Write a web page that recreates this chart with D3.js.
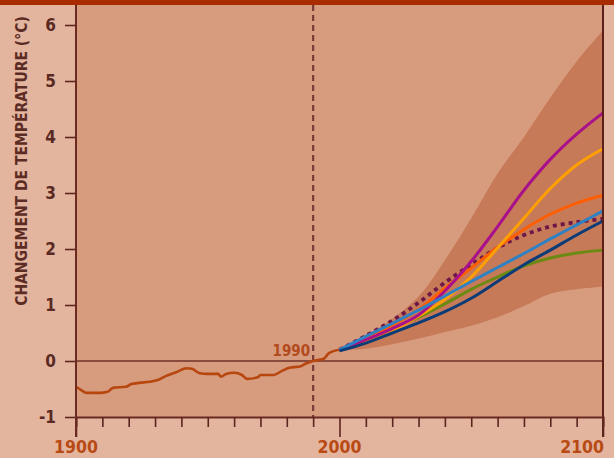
<!DOCTYPE html>
<html>
<head>
<meta charset="utf-8">
<script src="https://cdn.jsdelivr.net/npm/d3@7"></script>
<style>
  body { margin: 0; background: #e3b49e; }
  svg { display: block; }
  text { font-family: "DejaVu Sans Condensed", "DejaVu Sans", sans-serif; }
</style>
</head>
<body>
<script>
// observed record 1900-2000
var histYears = [1900, 1902, 1904, 1909, 1912, 1914, 1919, 1921, 1924, 1928, 1931, 1934, 1938, 1942, 1944,
	1947, 1950, 1954, 1955, 1957, 1960, 1963, 1965, 1969, 1970, 1975, 1978, 1981, 1985, 1987, 1990,
	1994, 1996, 2000];
var histTemp = [-0.46, -0.52, -0.57, -0.57, -0.55, -0.48, -0.46, -0.41, -0.39, -0.37, -0.34, -0.27, -0.2, -0.13, -0.14,
	-0.22, -0.23, -0.23, -0.28, -0.23, -0.21, -0.25, -0.32, -0.29, -0.25, -0.25, -0.18, -0.12, -0.1, -0.05, 0.0,
	0.04, 0.14, 0.2];

// scenarios 2000-2100
var projYears = [2000, 2010, 2020, 2030, 2040, 2050, 2060, 2070, 2080, 2090, 2100];
var bandHigh = [0.2, 0.45, 0.75, 1.15, 1.8, 2.55, 3.35, 4.0, 4.7, 5.35, 5.9];
var bandLow  = [0.2, 0.22, 0.3, 0.4, 0.52, 0.63, 0.78, 0.98, 1.2, 1.28, 1.33];
var scenMagenta  = [0.2, 0.38, 0.58, 0.82, 1.25, 1.78, 2.4, 3.05, 3.6, 4.05, 4.43];
var scenOrange   = [0.2, 0.36, 0.55, 0.8, 1.1, 1.5, 2.02, 2.55, 3.08, 3.5, 3.79];
var scenRed      = [0.2, 0.4, 0.64, 0.92, 1.3, 1.66, 2.03, 2.35, 2.62, 2.82, 2.96];
var scenBlue     = [0.2, 0.44, 0.67, 0.91, 1.16, 1.42, 1.67, 1.92, 2.18, 2.43, 2.68];
var scenNavy     = [0.18, 0.32, 0.5, 0.68, 0.88, 1.12, 1.42, 1.72, 1.98, 2.25, 2.5];
var scenGreen    = [0.2, 0.38, 0.58, 0.78, 1.02, 1.28, 1.5, 1.7, 1.84, 1.93, 1.98];
var scenDashed   = [0.2, 0.45, 0.72, 1.04, 1.4, 1.72, 2.02, 2.25, 2.4, 2.48, 2.54];

var yTicks = [-1, 0, 1, 2, 3, 4, 5, 6];
var xLabels = [1900, 2000, 2100];
var yTitle = "CHANGEMENT DE TEMPÉRATURE (°C)";

var width = 614, height = 458;
var plotTop = 5, plotLeft = 76, plotRight = 603, plotBottom = 417;

var x = d3.scaleLinear().domain([1900, 2100]).range([plotLeft, plotRight]);
var y = d3.scaleLinear().domain([-1, 6]).range([plotBottom, 25]);

var svg = d3.select('body').append('svg')
	.attr('width', width)
	.attr('height', height);

// plot background
svg.append('rect')
	.attr('x', plotLeft).attr('y', plotTop)
	.attr('width', plotRight - plotLeft).attr('height', plotBottom - plotTop)
	.attr('fill', '#d79b7e');

// uncertainty band
var band = projYears.map(function(d, i) { return {yr: d, lo: bandLow[i], hi: bandHigh[i]}; });
svg.append('path')
	.datum(band)
	.attr('fill', '#c77a57')
	.attr('d', d3.area()
		.curve(d3.curveCatmullRom)
		.x(function(d) { return x(d.yr); })
		.y0(function(d) { return y(d.lo); })
		.y1(function(d) { return y(d.hi); }));

// top bar
svg.append('rect')
	.attr('x', 0).attr('y', 0).attr('width', width).attr('height', plotTop)
	.attr('fill', '#a82c00');

// zero line
svg.append('line')
	.attr('x1', plotLeft).attr('x2', plotRight)
	.attr('y1', y(0)).attr('y2', y(0))
	.attr('stroke', '#6e302a').attr('stroke-width', 1.5);

// 1990 marker
svg.append('line')
	.attr('x1', x(1990)).attr('x2', x(1990))
	.attr('y1', plotTop).attr('y2', plotBottom)
	.attr('stroke', '#7a3a36').attr('stroke-width', 2.2)
	.attr('stroke-dasharray', '6,4');

svg.append('text')
	.attr('x', x(1990) - 3).attr('y', y(0) - 5)
	.attr('text-anchor', 'end')
	.attr('font-size', 15)
	.attr('font-weight', 'bold')
	.attr('fill', '#b24a1c')
	.text('1990');

// observed line
var hist = histYears.map(function(d, i) { return [d, histTemp[i]]; });
var histLine = d3.line()
	.curve(d3.curveMonotoneX)
	.x(function(d) { return x(d[0]); })
	.y(function(d) { return y(d[1]); });

svg.append('path')
	.datum(hist)
	.attr('fill', 'none')
	.attr('stroke', '#b8460f')
	.attr('stroke-width', 2.6)
	.attr('stroke-linejoin', 'round')
	.attr('d', histLine);

// scenario lines
var line = d3.line()
	.curve(d3.curveCatmullRom)
	.x(function(d) { return x(d[0]); })
	.y(function(d) { return y(d[1]); });

var scenarios = [
	{vals: scenDashed, color: '#6e1748', dash: '4,4', w: 3.8},
	{vals: scenGreen, color: '#6a8a12', w: 3},
	{vals: scenRed, color: '#ff5e00', w: 3},
	{vals: scenOrange, color: '#ffa000', w: 3},
	{vals: scenMagenta, color: '#a8108c', w: 3},
	{vals: scenBlue, color: '#2e82c4', w: 3},
	{vals: scenNavy, color: '#0c3c78', w: 3}
];

scenarios.forEach(function(s) {
	svg.append('path')
		.datum(projYears.map(function(d, i) { return [d, s.vals[i]]; }))
		.attr('fill', 'none')
		.attr('stroke', s.color)
		.attr('stroke-width', s.w)
		.attr('stroke-dasharray', s.dash || null)
		.attr('d', line);
});

// right border
svg.append('line')
	.attr('x1', plotRight).attr('x2', plotRight)
	.attr('y1', plotTop).attr('y2', 437)
	.attr('stroke', '#5c2019').attr('stroke-width', 2);

// x axis
var xAxis = d3.axisBottom(x)
	.tickValues(d3.range(1900, 2101, 10))
	.tickSize(10)
	.tickFormat('');

var gx = svg.append('g')
	.attr('transform', 'translate(0,' + plotBottom + ')')
	.call(xAxis);
gx.select('.domain').attr('stroke', '#6a2a22').attr('stroke-width', 2);
gx.selectAll('.tick line')
	.attr('stroke', '#5c2520').attr('stroke-width', 1.6)
	.attr('y2', function(d) { return d % 100 === 0 ? 20 : 10; });

svg.selectAll('.xlab')
	.data(xLabels)
	.enter().append('text')
	.attr('class', 'xlab')
	.attr('x', function(d) { return d === 2100 ? x(d) + 1 : x(d); })
	.attr('y', 453)
	.attr('text-anchor', function(d) { return d === 2100 ? 'end' : 'middle'; })
	.attr('font-size', 17.5)
	.attr('font-weight', 'bold')
	.attr('fill', '#b84a14')
	.text(function(d) { return d; });

// y axis
var yAxis = d3.axisLeft(y)
	.tickValues(yTicks)
	.tickSize(11)
	.tickPadding(9)
	.tickFormat(function(d) { return String(d); });

var gy = svg.append('g')
	.attr('transform', 'translate(' + plotLeft + ',0)')
	.call(yAxis);
gy.select('.domain').remove();
gy.selectAll('.tick line').attr('stroke', '#5c2520').attr('stroke-width', 1.6);
gy.selectAll('.tick text')
	.attr('font-size', 17)
	.attr('font-weight', 'bold')
	.attr('fill', '#5a2a22')
	.style('font-family', '"DejaVu Sans Condensed", sans-serif');

svg.append('line')
	.attr('x1', plotLeft).attr('x2', plotLeft)
	.attr('y1', plotTop).attr('y2', 437)
	.attr('stroke', '#6a2a22').attr('stroke-width', 2);

// y title
svg.append('text')
	.attr('transform', 'translate(27,' + 161 + ') rotate(-90)')
	.attr('text-anchor', 'middle')
	.attr('font-size', 15.5)
	.attr('font-weight', 'bold')
	.attr('fill', '#5c2c24')
	.text(yTitle);
</script>
</body>
</html>
